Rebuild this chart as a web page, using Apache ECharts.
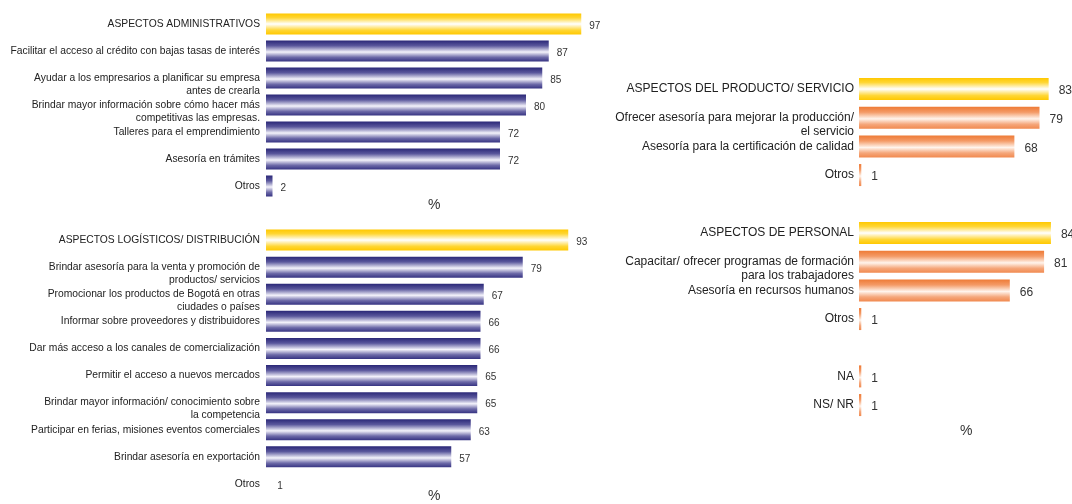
<!DOCTYPE html>
<html><head><meta charset="utf-8">
<script src="https://cdn.jsdelivr.net/npm/echarts@6/dist/echarts.min.js"></script>
<style>html,body{margin:0;padding:0;background:#fff}#c{width:1072px;height:504px}</style>
</head><body><div id="c"></div>
<script>
const tlCats = ['ASPECTOS ADMINISTRATIVOS','Facilitar el acceso al crédito con bajas tasas de interés','Ayudar a los empresarios a planificar su empresa\nantes de crearla','Brindar mayor información sobre cómo hacer más\ncompetitivas las empresas.','Talleres para el emprendimiento','Asesoría en trámites','Otros'];
const tlVals = [97,87,85,80,72,72,2];
const blCats = ['ASPECTOS LOGÍSTICOS/ DISTRIBUCIÓN','Brindar asesoría para la venta y promoción de\nproductos/ servicios','Promocionar los productos de Bogotá en otras\nciudades o países','Informar sobre proveedores y distribuidores','Dar más acceso a los canales de comercialización','Permitir el acceso a nuevos mercados','Brindar mayor información/ conocimiento sobre\nla competencia','Participar en ferias, misiones eventos comerciales','Brindar asesoría en exportación','Otros'];
const blVals = [93,79,67,66,66,65,65,63,57,1];
const trCats = ['ASPECTOS DEL PRODUCTO/ SERVICIO','Ofrecer asesoría para mejorar la producción/\nel servicio','Asesoría para la certificación de calidad','Otros'];
const trVals = [83,79,68,1];
const brCats = ['ASPECTOS DE PERSONAL','Capacitar/ ofrecer programas de formación\npara los trabajadores','Asesoría en recursos humanos','Otros','','NA','NS/ NR'];
const brVals = [84,81,66,1,null,1,1];

const G = echarts.graphic.LinearGradient;
const yellow = () => new G(0,0,0,1,[{offset:0,color:'#ffc800'},{offset:0.2,color:'#ffd633'},{offset:0.5,color:'#ffffff'},{offset:0.8,color:'#ffd633'},{offset:1,color:'#ffc800'}]);
const blue = () => new G(0,0,0,1,[{offset:0,color:'#2a2777'},{offset:0.25,color:'#5a579c'},{offset:0.55,color:'#f4f3fb'},{offset:0.8,color:'#6d6aa8'},{offset:1,color:'#363382'}]);
const orange = () => new G(0,0,0,1,[{offset:0,color:'#ee7a35'},{offset:0.25,color:'#f49a66'},{offset:0.55,color:'#fff4ec'},{offset:0.8,color:'#f5a77b'},{offset:1,color:'#f18a50'}]);

function items(vals, main, hideLast) {
  return vals.map((v,i) => {
    if (v === null) return null;
    const it = {value: v, itemStyle: {color: i === 0 ? yellow() : main()}};
    if (hideLast && i === vals.length - 1) it.itemStyle = {color: 'rgba(0,0,0,0)'};
    return it;
  });
}
const fmt = v => v.indexOf('\n') >= 0 ? '\n' + v : v;

const grids = [
  {left:266, width:325, top:10.5, height:189, outerBoundsMode:'none', containLabel:false},
  {left:266, width:325, top:226.5, height:271, outerBoundsMode:'none', containLabel:false},
  {left:859, width:228.5, top:74.7, height:114.7, outerBoundsMode:'none', containLabel:false},
  {left:859, width:228.5, top:218.7, height:200.7, outerBoundsMode:'none', containLabel:false}
];
const cats = [tlCats, blCats, trCats, brCats];
const vals = [items(tlVals, blue, false), items(blVals, blue, true), items(trVals, orange, false), items(brVals, orange, false)];
const small = [true, true, false, false];

const option = {
  animation: false,
  grid: grids,
  xAxis: grids.map((g,i) => ({gridIndex:i, type:'value', min:0, max:100, show:false})),
  yAxis: cats.map((c,i) => ({
    gridIndex:i, type:'category', data:c, inverse:true,
    axisLine:{show:false}, axisTick:{show:false}, splitLine:{show:false},
    axisLabel:{
      margin: small[i] ? 6 : 5, color:'#222', fontFamily:'Liberation Sans, Arial, sans-serif',
      fontSize: small[i] ? 10.3 : 12, lineHeight: small[i] ? 13 : 14, align:'right', formatter: fmt
    }
  })),
  series: vals.map((d,i) => ({
    type:'bar', xAxisIndex:i, yAxisIndex:i, data:d,
    barWidth: small[i] ? 21 : 22,
    label:{show:true, position:'right', distance: small[i] ? 8 : 10, offset:[0,2],
      color:'#333', fontFamily:'Liberation Sans, Arial, sans-serif', fontSize: small[i] ? 10 : 12}
  })),
  graphic: [
    {type:'text', left:428, top:198, style:{text:'%', fontSize:14, fill:'#333', fontFamily:'Liberation Sans, Arial, sans-serif'}},
    {type:'text', left:428, top:489, style:{text:'%', fontSize:14, fill:'#333', fontFamily:'Liberation Sans, Arial, sans-serif'}},
    {type:'text', left:960, top:424, style:{text:'%', fontSize:14, fill:'#333', fontFamily:'Liberation Sans, Arial, sans-serif'}}
  ]
};
echarts.init(document.getElementById('c'), null, {renderer:'canvas'}).setOption(option);
</script></body></html>
